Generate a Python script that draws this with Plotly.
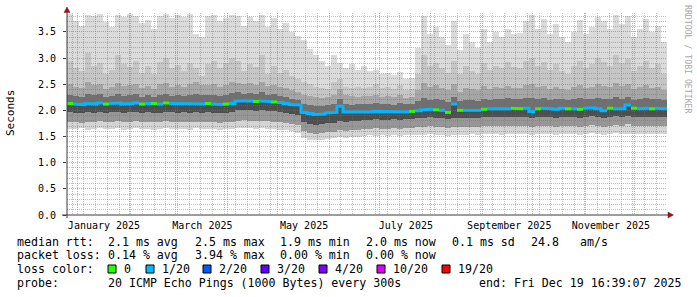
import plotly.graph_objects as go
import pandas as pd

# ---------------- data ----------------
START = pd.Timestamp("2024-12-25 19:40")
END = pd.Timestamp("2025-12-20 14:00")
N_STEPS = 100

median = [2.13, 2.12, 2.11, 2.13, 2.12, 2.14, 2.12, 2.13, 2.14, 2.12,
          2.13, 2.14, 2.12, 2.13, 2.13, 2.12, 2.14, 2.13, 2.12, 2.13,
          2.12, 2.13, 2.12, 2.13, 2.12, 2.11, 2.12, 2.13, 2.18, 2.19,
          2.18, 2.17, 2.18, 2.17, 2.16, 2.15, 2.13, 2.11, 2.10, 1.96,
          1.94, 1.92, 1.93, 1.95, 1.96, 2.08, 1.97, 1.96, 1.96, 1.97,
          1.97, 1.98, 1.98, 1.97, 1.97, 1.98, 1.97, 1.98, 1.99, 2.01,
          2.02, 2.01, 2.00, 1.96, 2.12, 2.00, 2.00, 2.01, 2.00, 2.02,
          2.03, 2.04, 2.03, 2.03, 2.04, 2.03, 2.04, 1.98, 2.03, 2.04,
          2.03, 2.02, 2.04, 2.03, 2.03, 2.02, 2.04, 2.05, 2.03, 1.99,
          2.04, 2.03, 2.03, 2.10, 2.04, 2.03, 2.04, 2.03, 2.04, 2.03]

smoke_top = [3.84, 3.70, 3.62, 3.83, 3.80, 3.84, 3.68, 3.60, 3.82, 3.78,
             3.84, 3.80, 3.66, 3.72, 3.56, 3.80, 3.84, 3.76, 3.82, 3.79,
             3.84, 3.45, 3.40, 3.80, 3.83, 3.70, 3.76, 3.83, 3.80, 3.62,
             3.78, 3.70, 3.82, 3.60, 3.76, 3.55, 3.66, 3.50, 3.42, 3.35,
             3.18, 3.05, 2.95, 2.85, 3.05, 2.90, 2.80, 2.88, 2.78, 2.85,
             2.75, 2.78, 2.70, 2.72, 2.68, 2.74, 2.60, 2.62, 3.20, 3.80,
             3.45, 3.60, 3.40, 3.25, 3.70, 3.15, 3.45, 3.30, 3.20, 3.55,
             3.30, 3.50, 3.40, 3.55, 3.45, 3.48, 3.70, 3.82, 3.55, 3.75,
             3.45, 3.65, 3.40, 3.30, 3.50, 3.72, 3.45, 3.60, 3.78, 3.70,
             3.55, 3.82, 3.65, 3.80, 3.40, 3.55, 3.75, 3.50, 3.62, 3.30]

smoke_hi3 = [2.95, 2.80, 2.75, 3.10, 2.85, 2.90, 2.70, 2.78, 3.05, 2.88,
             2.82, 2.95, 2.72, 2.85, 2.70, 2.92, 3.00, 2.80, 2.86, 2.75,
             2.90, 2.80, 2.65, 2.88, 2.95, 2.80, 2.90, 3.00, 2.95, 2.75,
             2.88, 2.82, 3.05, 2.70, 2.85, 2.72, 2.78, 2.65, 2.60, 2.55,
             2.50, 2.45, 2.42, 2.40, 2.55, 2.60, 2.45, 2.42, 2.45, 2.42,
             2.45, 2.50, 2.42, 2.45, 2.40, 2.48, 2.38, 2.40, 2.70, 3.05,
             2.85, 2.90, 2.80, 2.72, 2.95, 2.70, 2.85, 2.75, 2.70, 2.90,
             2.78, 2.85, 2.80, 2.92, 2.82, 2.80, 2.95, 3.00, 2.85, 2.92,
             2.78, 2.88, 2.75, 2.70, 2.85, 2.95, 2.80, 2.88, 3.00, 2.92,
             2.85, 3.05, 2.90, 2.98, 2.75, 2.85, 2.95, 2.80, 2.88, 2.70]

smoke_hi2 = [2.50, 2.45, 2.42, 2.55, 2.48, 2.50, 2.40, 2.44, 2.52, 2.46,
             2.48, 2.50, 2.42, 2.47, 2.40, 2.50, 2.52, 2.45, 2.48, 2.44,
             2.50, 2.55, 2.48, 2.48, 2.50, 2.45, 2.48, 2.55, 2.52, 2.50,
             2.52, 2.48, 2.55, 2.46, 2.48, 2.44, 2.42, 2.38, 2.36, 2.30,
             2.28, 2.25, 2.24, 2.26, 2.30, 2.40, 2.30, 2.27, 2.26, 2.28,
             2.27, 2.30, 2.26, 2.28, 2.25, 2.30, 2.24, 2.26, 2.38, 2.52,
             2.45, 2.48, 2.42, 2.38, 2.50, 2.36, 2.42, 2.40, 2.38, 2.46,
             2.40, 2.44, 2.42, 2.47, 2.43, 2.42, 2.48, 2.50, 2.44, 2.46,
             2.40, 2.45, 2.40, 2.38, 2.44, 2.48, 2.42, 2.45, 2.50, 2.47,
             2.44, 2.52, 2.46, 2.50, 2.40, 2.44, 2.48, 2.42, 2.45, 2.38]

smoke_hi1 = [2.30, 2.28, 2.26, 2.32, 2.29, 2.31, 2.26, 2.28, 2.32, 2.28,
             2.29, 2.31, 2.26, 2.29, 2.25, 2.30, 2.32, 2.28, 2.29, 2.27,
             2.30, 2.32, 2.29, 2.29, 2.30, 2.28, 2.29, 2.33, 2.35, 2.32,
             2.34, 2.32, 2.36, 2.30, 2.32, 2.28, 2.26, 2.22, 2.20, 2.12,
             2.10, 2.08, 2.08, 2.10, 2.12, 2.22, 2.12, 2.11, 2.12, 2.12,
             2.12, 2.14, 2.12, 2.13, 2.11, 2.14, 2.12, 2.13, 2.18, 2.24,
             2.20, 2.22, 2.19, 2.16, 2.26, 2.17, 2.20, 2.19, 2.18, 2.21,
             2.20, 2.22, 2.21, 2.23, 2.22, 2.21, 2.23, 2.24, 2.22, 2.23,
             2.20, 2.22, 2.21, 2.19, 2.22, 2.23, 2.21, 2.22, 2.24, 2.22,
             2.21, 2.25, 2.22, 2.26, 2.20, 2.22, 2.23, 2.21, 2.22, 2.20]

smoke_lo2 = [1.96, 1.95, 1.94, 1.96, 1.95, 1.97, 1.95, 1.96, 1.97, 1.95,
             1.96, 1.97, 1.95, 1.96, 1.95, 1.95, 1.97, 1.96, 1.95, 1.96,
             1.95, 1.96, 1.95, 1.96, 1.95, 1.94, 1.95, 1.96, 2.00, 2.01,
             2.00, 1.99, 2.00, 1.99, 1.98, 1.97, 1.95, 1.93, 1.92, 1.78,
             1.74, 1.72, 1.73, 1.75, 1.76, 1.80, 1.78, 1.79, 1.80, 1.81,
             1.82, 1.83, 1.82, 1.82, 1.83, 1.82, 1.83, 1.84, 1.85, 1.86,
             1.87, 1.86, 1.85, 1.83, 1.86, 1.85, 1.85, 1.86, 1.85, 1.87,
             1.88, 1.88, 1.87, 1.87, 1.88, 1.87, 1.88, 1.85, 1.87, 1.88,
             1.87, 1.86, 1.88, 1.87, 1.87, 1.86, 1.88, 1.89, 1.87, 1.85,
             1.88, 1.89, 1.87, 1.90, 1.88, 1.87, 1.88, 1.87, 1.88, 1.87]

smoke_lo1 = [1.78, 1.77, 1.76, 1.78, 1.77, 1.79, 1.77, 1.78, 1.79, 1.77,
             1.78, 1.79, 1.77, 1.78, 1.77, 1.77, 1.79, 1.78, 1.77, 1.78,
             1.77, 1.78, 1.77, 1.78, 1.77, 1.76, 1.77, 1.78, 1.80, 1.81,
             1.80, 1.79, 1.80, 1.79, 1.78, 1.77, 1.76, 1.74, 1.72, 1.60,
             1.57, 1.55, 1.56, 1.58, 1.59, 1.62, 1.61, 1.62, 1.63, 1.64,
             1.65, 1.66, 1.65, 1.65, 1.66, 1.65, 1.66, 1.67, 1.68, 1.69,
             1.70, 1.69, 1.68, 1.66, 1.69, 1.68, 1.68, 1.69, 1.68, 1.70,
             1.71, 1.71, 1.70, 1.70, 1.71, 1.70, 1.71, 1.68, 1.70, 1.71,
             1.70, 1.69, 1.71, 1.70, 1.70, 1.69, 1.71, 1.72, 1.70, 1.68,
             1.71, 1.72, 1.70, 1.73, 1.71, 1.70, 1.71, 1.70, 1.71, 1.70]

smoke_lo0 = [1.65, 1.64, 1.66, 1.63, 1.65, 1.66, 1.64, 1.65, 1.66, 1.63,
             1.65, 1.66, 1.64, 1.65, 1.63, 1.64, 1.66, 1.65, 1.64, 1.65,
             1.63, 1.66, 1.64, 1.65, 1.64, 1.63, 1.64, 1.65, 1.66, 1.67,
             1.66, 1.65, 1.66, 1.65, 1.64, 1.63, 1.62, 1.60, 1.57, 1.47,
             1.44, 1.43, 1.44, 1.46, 1.47, 1.49, 1.48, 1.50, 1.50, 1.51,
             1.52, 1.51, 1.52, 1.51, 1.52, 1.51, 1.52, 1.53, 1.52, 1.53,
             1.54, 1.53, 1.52, 1.51, 1.53, 1.52, 1.53, 1.54, 1.53, 1.54,
             1.55, 1.54, 1.53, 1.54, 1.55, 1.54, 1.55, 1.53, 1.54, 1.55,
             1.54, 1.53, 1.55, 1.54, 1.54, 1.53, 1.55, 1.56, 1.54, 1.53,
             1.55, 1.56, 1.54, 1.55, 1.55, 1.54, 1.55, 1.54, 1.55, 1.54]

# lost pings (out of 20) per step -> colour class of the median line
lost_pings = [0, 1, 1, 1, 1, 1, 0, 1, 1, 1,
              1, 1, 0, 1, 0, 1, 0, 1, 1, 1,
              1, 1, 1, 0, 1, 1, 0, 1, 1, 1,
              1, 0, 1, 1, 0, 1, 1, 1, 1, 1,
              1, 1, 1, 1, 1, 1, 1, 1, 1, 1,
              1, 1, 1, 1, 1, 1, 1, 0, 1, 1,
              1, 0, 1, 0, 1, 0, 1, 1, 1, 0,
              1, 1, 1, 1, 0, 0, 1, 1, 0, 1,
              1, 1, 1, 0, 1, 0, 1, 1, 1, 1,
              0, 1, 1, 1, 0, 1, 1, 0, 1, 1]

loss_labels = ["0", "1/20", "2/20", "3/20", "4/20", "10/20", "19/20"]
loss_keys = [0, 1, 2, 3, 4, 10, 19]
loss_colors = ["#26ff00", "#00b8ff", "#0059ff", "#5e00ff", "#7e00ff", "#dd00ff", "#ff0000"]

y_tick_values = [0.0, 0.5, 1.0, 1.5, 2.0, 2.5, 3.0, 3.5]
x_label_months = ["2025-01-01", "2025-03-01", "2025-05-01", "2025-07-01", "2025-09-01", "2025-11-01"]
x_label_text = ["January 2025", "March 2025", "May 2025", "July 2025", "September 2025", "November 2025"]

row1 = [(16, "median rtt:"), (107, "2.1 ms avg"), (194, "2.5 ms max"), (279, "1.9 ms min"),
        (365, "2.0 ms now"), (451, "0.1 ms sd"), (530, "24.8"), (579, "am/s")]
row2 = [(16, "packet loss:"), (107, "0.14 % avg"), (194, "3.94 % max"), (279, "0.00 % min"),
        (365, "0.00 % now")]
row3 = [(16, "loss color:")]
row4 = [(16, "probe:"), (107, "20 ICMP Echo Pings (1000 Bytes) every 300s"),
        (478, "end: Fri Dec 19 16:39:07 2025")]

for arr in (median, smoke_top, smoke_hi3, smoke_hi2, smoke_hi1, smoke_lo2, smoke_lo1, smoke_lo0, lost_pings):
    assert len(arr) == N_STEPS, len(arr)

# ---------------- geometry helpers (pixel -> paper) ----------------
W, H = 697, 297
PL, PR, PT, PB = 67, 667, 13, 215
YMAX = 3.86


def px(xp):
    return (xp - PL) / (PR - PL)


def py(yp):
    return (PB - yp) / (PB - PT)


edges = pd.date_range(START, END, periods=N_STEPS + 1)
centers = edges[:-1] + (edges[1:] - edges[:-1]) / 2
step_ms = (edges[1] - edges[0]).total_seconds() * 1000

MONO = "DejaVu Sans Mono"

fig = go.Figure()

bands = [
    (smoke_lo0, smoke_lo1, "#d4d4d4"),
    (smoke_lo1, smoke_lo2, "#979797"),
    (smoke_lo2, median, "#4e4e4e"),
    (median, smoke_hi1, "#707070"),
    (smoke_hi1, smoke_hi2, "#a6a6a6"),
    (smoke_hi2, smoke_hi3, "#c6c6c6"),
    (smoke_hi3, smoke_top, "#dbdbdb"),
]
for lo, hi, col in bands:
    fig.add_trace(go.Bar(
        x=centers, y=[h - l for l, h in zip(lo, hi)], base=lo, width=step_ms,
        marker=dict(color=col, line=dict(width=0)), hoverinfo="skip",
    ))

# median line, coloured by loss (on the second, grid-carrying subplot so grid sits over the smoke)
color_of = dict(zip(loss_keys, loss_colors))
for key in sorted(set(lost_pings)):
    xs, ys = [], []
    for i in range(N_STEPS):
        if lost_pings[i] != key:
            continue
        xs += [edges[i], edges[i + 1]]
        ys += [median[i], median[i]]
        if i + 1 >= N_STEPS or lost_pings[i + 1] != key:
            xs.append(None)
            ys.append(None)
    fig.add_trace(go.Scatter(x=xs, y=ys, mode="lines", xaxis="x2", yaxis="y2",
                             line=dict(color=color_of[key], width=3),
                             hoverinfo="skip", connectgaps=False))

MAJ = "rgba(235,70,70,0.55)"
MIN = "rgba(110,110,110,0.45)"
DOT = "1px,1px"

label_pos = [pd.Timestamp(m) + pd.Timedelta(days=16) for m in x_label_months]

fig.update_layout(
    width=W, height=H,
    margin=dict(l=PL, r=W - PR, t=PT, b=H - PB, pad=0),
    paper_bgcolor="white", plot_bgcolor="rgba(0,0,0,0)",
    showlegend=False, barmode="overlay", bargap=0,
    xaxis=dict(type="date", range=[START, END], showgrid=False, zeroline=False,
               showline=False, tickvals=label_pos, ticktext=x_label_text, ticks="",
               tickfont=dict(family=MONO, size=10, color="#000"), ticklabelstandoff=3,
               fixedrange=True),
    yaxis=dict(range=[0, YMAX], showgrid=False, zeroline=False, showline=False,
               tickvals=y_tick_values, tickformat=".1f", ticksuffix=" m",
               ticks="outside", ticklen=3, tickcolor="#404040",
               tickfont=dict(family=MONO, size=10, color="#000"), ticklabelstandoff=5,
               fixedrange=True),
    xaxis2=dict(type="date", range=[START, END], anchor="y2", domain=[0, 1],
                showgrid=True, gridcolor=MAJ, griddash=DOT, gridwidth=1,
                dtick="M1", tick0="2025-01-01", showticklabels=False, ticks="",
                zeroline=False, showline=False, fixedrange=True,
                minor=dict(dtick=7 * 86400000, tick0="2025-01-05", showgrid=True,
                           gridcolor=MIN, griddash=DOT, gridwidth=1, ticks="")),
    yaxis2=dict(range=[0, YMAX], anchor="x2", domain=[0, 1],
                showgrid=True, gridcolor=MAJ, griddash=DOT, gridwidth=1,
                dtick=0.5, tick0=0, showticklabels=False, ticks="",
                zeroline=False, showline=False, fixedrange=True,
                minor=dict(dtick=0.1, tick0=0, showgrid=True, gridcolor=MIN,
                           griddash=DOT, gridwidth=1, ticks="")),
)

shapes = []
AX = "#3a3a3a"
ARROW = "#8b1a1a"
shapes.append(dict(type="line", xref="paper", yref="paper", x0=px(67), x1=px(67),
                   y0=py(218), y1=py(11), line=dict(color=AX, width=1), layer="above"))
shapes.append(dict(type="line", xref="paper", yref="paper", x0=px(62), x1=px(669),
                   y0=py(215), y1=py(215), line=dict(color=AX, width=1), layer="above"))
shapes.append(dict(type="path", xref="paper", yref="paper",
                   path=f"M {px(64)},{py(12.5)} L {px(70)},{py(12.5)} L {px(67)},{py(7)} Z",
                   fillcolor=ARROW, line=dict(color=ARROW, width=0.5), layer="above"))
shapes.append(dict(type="path", xref="paper", yref="paper",
                   path=f"M {px(668)},{py(212)} L {px(668)},{py(218)} L {px(673.5)},{py(215)} Z",
                   fillcolor=ARROW, line=dict(color=ARROW, width=0.5), layer="above"))

annotations = []
row_y = [241.7, 255.3, 269.2, 283.0]
for yy, row in zip(row_y, [row1, row2, row3, row4]):
    for xx, txt in row:
        annotations.append(dict(x=px(xx), y=py(yy), xref="paper", yref="paper",
                                text=txt.replace(" ", "\u00a0"), showarrow=False,
                                xanchor="left", yanchor="middle", borderpad=0,
                                font=dict(family=MONO, size=11.6, color="#000")))

box_x = [108, 146, 203, 261, 319, 377, 442]
lab_x = [123, 160.5, 218, 276, 334, 392, 457]
for bx, lx, lab, col in zip(box_x, lab_x, loss_labels, loss_colors):
    shapes.append(dict(type="rect", xref="paper", yref="paper",
                       x0=px(bx), x1=px(bx + 8), y0=py(273), y1=py(265),
                       fillcolor=col, line=dict(color="#000", width=1), layer="above"))
    annotations.append(dict(x=px(lx), y=py(269.2), xref="paper", yref="paper",
                            text=lab, showarrow=False, xanchor="left", yanchor="middle",
                            borderpad=0, font=dict(family=MONO, size=11.6, color="#000")))

annotations.append(dict(x=px(10.5), y=py(113.5), xref="paper", yref="paper", text="Seconds",
                        textangle=-90, showarrow=False, xanchor="center", yanchor="middle",
                        borderpad=0, font=dict(family=MONO, size=11, color="#000")))
annotations.append(dict(x=px(688), y=py(59), xref="paper", yref="paper",
                        text="RRDTOOL / TOBI OETIKER".replace(" ", "\u00a0"),
                        textangle=90, showarrow=False, xanchor="center", yanchor="middle",
                        borderpad=0, font=dict(family=MONO, size=8.2, color="#a8a8a8")))

fig.update_layout(shapes=shapes, annotations=annotations)
fig.write_html("out.html")
